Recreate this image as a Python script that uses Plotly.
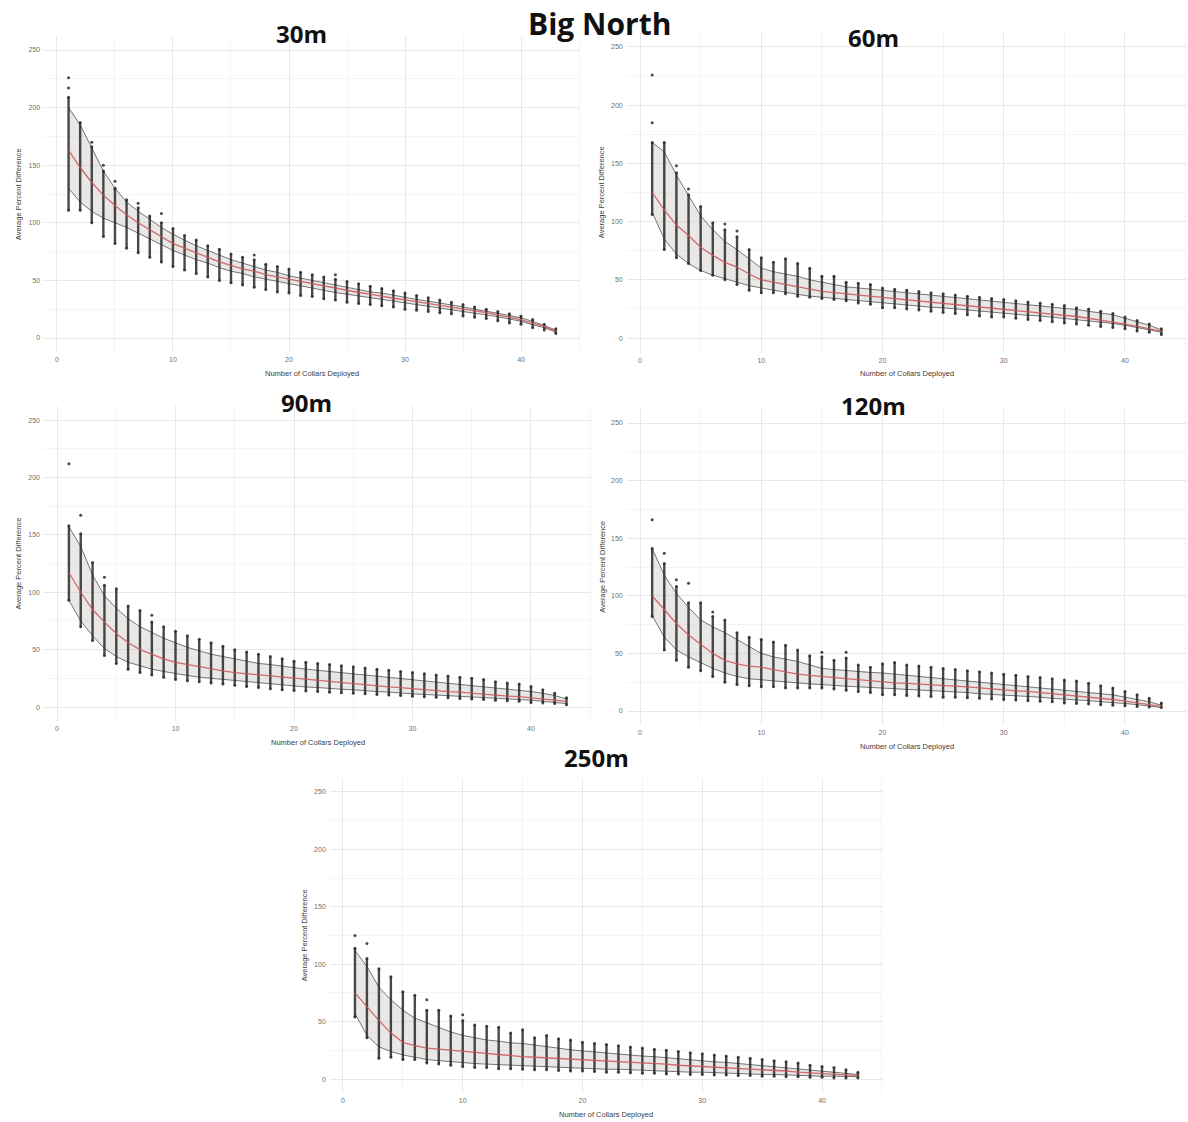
import plotly.graph_objects as go

# ---------------- data ----------------
collars = list(range(1, 44))
x_ticks = [0, 10, 20, 30, 40]
y_ticks = [0, 50, 100, 150, 200, 250]
panel_names = ["30m", "60m", "90m", "120m", "250m"]

mean_30 = [163,148,135,124,115,107,100,94,88,82,78,74,70,66,63,60,58,55,53,51,49,47,45,43,41,39.5,38,36,34.5,33,31.5,30,28.5,27,25,23.5,22,20,18,16,13,10,6]
hi_30 = [200,185,165,145,130,118,110,103,96,90,85,80,76,72,68,65,62,59,57,54,52,50,48,46,44,42,40,39,37,35,33.5,32,30.5,29,27,25,23.5,21.5,19.5,17.5,14.5,11,7]
lo_30 = [130,118,110,104,100,96,91,86,81,76,72,68,65,61,58,56,53,51,49,47,45,43,41,39.5,38,36.5,35,33.5,32,30.5,29,28,26.5,25,23.5,22,20.5,18.5,16.5,14.5,11.5,9,5]
pmax_30 = [209,187,166,145,130,120,113,106,100,95,89,85,80,77,73,70,68,64,62,60,57,55,53,51,49,47,45,43,41,39,37,35,33,31,29,27,25,23,21,19,16,12,8]
pmin_30 = [111,111,100,88,82,78,74,70,66,62,59,56,53,50,48,46,44,42,40,39,37,36,34,33,31,30,29,28,27,25,24,23,22,21,19,18,17,15,13,12,9,7,4]
out_x_30 = [1, 1, 3, 4, 5, 7, 9, 17, 24]
out_y_30 = [217, 226, 170, 150, 136, 117, 108, 72, 55]

mean_60 = [125,110,97,88,78,71,65,61,55,50,48,46,44,42,40,39,38,36.5,35.5,34.5,33.5,32.5,31.5,30.5,29.5,28.5,27.5,26.5,25.5,24.5,23.5,22.5,21.5,20.5,19.5,18.5,17,15.5,14,12,10,8,6]
hi_60 = [168,160,140,122,105,93,83,76,68,60,57,55,53,50,48,46,44,43,42,41,40,39,38,37,36,35,34,33,32,31,30,29,28,27,26,24.5,23,21.5,20,17,14,11,7]
lo_60 = [108,85,72,64,58,54,51,48,45,43,41,39,37.5,36,35,34,33,32,31,30,29,28,27,26.5,26,25,24,23,22.5,21.5,20.5,19.5,19,18,17,16,15,14,12.5,11,9,7,5]
pmax_60 = [168,168,142,123,113,99,93,87,76,69,65,68,64,60,53,53,48,47,46,43,42,41,40,39,38,37,36,35,34,33,32,31,30,29,28,26,25,23,21,18,15,12,8]
pmin_60 = [106,76,69,64,58,54,50,46,41,39,39,38,36,35,34,33,32,30,29,26,26,25,24,23,22,21,20,19,18,18,17,16,15,14,13,12,11,10,9,8,6,5,3]
out_x_60 = [1, 1, 3, 4, 7, 8]
out_y_60 = [185, 226, 148, 128, 98, 92]

mean_90 = [117,100,85,74,64,56,50,46,42,39,37,35,33,31.5,30,29,28,27,26,25,24,23,22,21,20,19,18.5,17.5,17,16,15,14.5,13.5,13,12,11,10.5,9.5,9,8,7,6,5]
hi_90 = [157,140,115,97,86,77,70,65,60,56,52,49,46,44,42,40,38,37,35.5,34.5,33,32,31,30,29,28,27,26,25,24,23,22,21,20,19,18,17,16,15,13.5,12,10,7]
lo_90 = [93,75,62,51,44,39,36,33,31,29,27.5,26,25,24,23,22,21,20,19,18,17.5,17,16,15.5,15,14,13.5,13,12,11.5,11,10.5,10,9.5,9,8.5,8,7,6.5,6,5,4,3]
pmax_90 = [158,151,126,106,103,88,84,74,70,66,62,59,56,53,50,48,46,44,42,40,39,38,37,36,35,34,33,32,31,30,29,28,27,26,25,24,22,21,20,18,15,12,8]
pmin_90 = [93,70,58,45,38,33,30,28,26,24,23,22,21,20,19,18,17,16,15,14.5,14,13.5,13,12.5,12,11.5,11,10.5,10,9.5,9,8.5,8,7.5,7,6.5,6,5.5,5,4,3.5,3,2]
out_x_90 = [1, 2, 4, 8]
out_y_90 = [212, 167, 113, 80]

mean_120 = [100,88,76,66,58,50,44,41,39,38,36,34,32,31,30,29,28,27,26,25,24.5,24,23.5,23,22,21.5,21,20,19,18,17.5,17,16,15,14.5,13.5,12.5,11.5,10,8.5,7,5.5,4]
hi_120 = [141,118,102,90,79,73,68,62,56,50,47,45,43,40,37,36,35,34,33.5,33,32,31,30,29,28,27,26,25,24,23,22,21,20,19,18,17,16,15,14,12,10,8,5]
lo_120 = [83,64,53,47,42,37,33,30,28,27,26,25,24,23.5,23,22,21.5,21,20.5,20,19,18.5,18,17.5,17,16.5,16,15,14.5,14,13,12.5,12,11,10.5,10,9,8,7.5,6.5,5.5,4.5,3]
pmax_120 = [141,128,108,94,94,82,79,68,64,62,60,57,53,48,47,44,46,40,38,41,42,40,39,38,37,36,35,34,33,32,31,30,29,28,27,26,24,22,20,17,14,11,7]
pmin_120 = [82,53,44,38,35,30,25,23,22,21,21,20,20,20,20,19,18,17,16,14,14,13.5,13,12.5,12,12,11.5,11,10.5,10,9.5,9,8.5,8,7,6.5,6,5.5,5,4.5,4,3.5,3]
out_x_120 = [1, 2, 3, 4, 6, 15, 17]
out_y_120 = [166, 137, 114, 111, 86, 51, 51]

mean_250 = [75,63,51,40,32,29,27,26,25,24,23,22,21,20,19.5,19,18.5,18,17.5,17,16.5,16,15.5,15,14,13.5,13,12,11.5,11,10.5,10,9.5,9,8,7.5,7,6,5.5,5,4.5,3.5,3]
hi_250 = [112,98,80,69,60,53,49,45,41,38,36,34,33,31.5,31,29.5,28,27,25.5,24.5,23.5,22.5,22,21,20,19.5,18.5,18,17,16,15,14.5,13.5,13,12,11,10,9,8,7,6,5,4]
lo_250 = [57,38,28,24,21,19,17,16,15,14,13.5,13,12.5,12,11.5,11,10.5,10,10,9.5,9,8.5,8.5,8,7.5,7,7,6.5,6,6,5.5,5,5,4.5,4,4,3.5,3,3,2.5,2.5,2,2]
pmax_250 = [114,105,96,89,76,73,60,60,55,51,47,46,45,40,43,36,38,35,34,32,31,30,29,28,27,26,25,24,23,22,21,20,19,18,17,16,15,14,12,11,10,8,6]
pmin_250 = [54,36,18,19,17,17,14,13,12,11,10,10,9,9,8.5,8,8,7.5,7,7,6.5,6,6,5.5,5,5,4.5,4.5,4,4,3.5,3.5,3,3,2.5,2.5,2,2,1.5,1.5,1,1,1]
out_x_250 = [1, 2, 7, 10]
out_y_250 = [125, 118, 69, 56]

series = {
    "30m": (mean_30, hi_30, lo_30, pmax_30, pmin_30, out_x_30, out_y_30),
    "60m": (mean_60, hi_60, lo_60, pmax_60, pmin_60, out_x_60, out_y_60),
    "90m": (mean_90, hi_90, lo_90, pmax_90, pmin_90, out_x_90, out_y_90),
    "120m": (mean_120, hi_120, lo_120, pmax_120, pmin_120, out_x_120, out_y_120),
    "250m": (mean_250, hi_250, lo_250, pmax_250, pmin_250, out_x_250, out_y_250),
}

# ---------------- layout (pixel boxes: left, right, top, bottom) ----------------
W, H = 1188, 1122
boxes = {
    "30m": (44.2, 580.2, 35.6, 352.4),
    "60m": (626.7, 1186.8, 32.4, 352.6),
    "90m": (44.0, 591.4, 405.7, 721.4),
    "120m": (626.7, 1186.8, 408.6, 725.4),
    "250m": (329.8, 883.1, 777.6, 1093.4),
}
title_pos = {
    "30m": (301, 33), "60m": (873, 38), "90m": (306, 402),
    "120m": (873, 406), "250m": (596, 757),
}

fig = go.Figure()
annotations = []
layout_axes = {}

ribbon_fill = "rgba(200,192,192,0.38)"
edge_col = "rgba(95,95,95,0.85)"
strip_col = "rgba(40,40,40,0.85)"
mean_col = "rgba(205,85,85,0.85)"
tick_font = dict(family="Liberation Sans, Arial", size=7, color="#707070")
title_font = dict(family="Liberation Sans, Arial", size=7.5, color="#404040")
head_font = "Open Sans, Lato, sans-serif"

for i, name in enumerate(panel_names, start=1):
    mean, hi, lo, pmax, pmin, ox, oy = series[name]
    xa = "x" if i == 1 else f"x{i}"
    ya = "y" if i == 1 else f"y{i}"
    # ribbon
    fig.add_trace(go.Scatter(x=collars, y=lo, xaxis=xa, yaxis=ya, mode="lines",
                             line=dict(color=edge_col, width=1), showlegend=False, hoverinfo="skip"))
    fig.add_trace(go.Scatter(x=collars, y=hi, xaxis=xa, yaxis=ya, mode="lines",
                             line=dict(color=edge_col, width=1), fill="tonexty",
                             fillcolor=ribbon_fill, showlegend=False, hoverinfo="skip"))
    # point strips
    fig.add_trace(go.Scatter(x=collars, y=pmin, xaxis=xa, yaxis=ya, mode="markers",
                             marker=dict(size=3, color=strip_col),
                             error_y=dict(type="data", symmetric=False,
                                          array=[a - b for a, b in zip(pmax, pmin)],
                                          arrayminus=[0] * len(pmin),
                                          width=0, thickness=2.4, color=strip_col),
                             showlegend=False, hoverinfo="skip"))
    fig.add_trace(go.Scatter(x=collars, y=pmax, xaxis=xa, yaxis=ya, mode="markers",
                             marker=dict(size=3, color=strip_col), showlegend=False, hoverinfo="skip"))
    fig.add_trace(go.Scatter(x=ox, y=oy, xaxis=xa, yaxis=ya, mode="markers",
                             marker=dict(size=3, color=strip_col), showlegend=False, hoverinfo="skip"))
    # mean line
    fig.add_trace(go.Scatter(x=collars, y=mean, xaxis=xa, yaxis=ya, mode="lines",
                             line=dict(color=mean_col, width=1.3), showlegend=False, hoverinfo="skip"))

    l, r, t, b = boxes[name]
    kx = "xaxis" if i == 1 else f"xaxis{i}"
    ky = "yaxis" if i == 1 else f"yaxis{i}"
    layout_axes[kx] = dict(domain=[l / W, r / W], anchor=ya, range=[-1.1, 45.1],
                           tickvals=x_ticks, ticktext=[str(v) for v in x_ticks],
                           showgrid=True, gridcolor="#e8e8e8", gridwidth=1,
                           minor=dict(dtick=5, tick0=0, showgrid=True, gridcolor="#f4f4f4", gridwidth=1),
                           zeroline=False, showline=False, ticks="", tickfont=tick_font, ticklabelstandoff=2)
    layout_axes[ky] = dict(domain=[1 - b / H, 1 - t / H], anchor=xa, range=[-12.5, 262.5],
                           tickvals=y_ticks, ticktext=[str(v) for v in y_ticks],
                           showgrid=True, gridcolor="#e8e8e8", gridwidth=1,
                           minor=dict(dtick=25, tick0=0, showgrid=True, gridcolor="#f4f4f4", gridwidth=1),
                           zeroline=False, showline=False, ticks="", tickfont=tick_font, ticklabelstandoff=3)
    # axis titles
    annotations.append(dict(x=(l + r) / 2 / W, y=1 - (b + 21) / H, xref="paper", yref="paper",
                            xanchor="center", yanchor="middle",
                            text="Number of Collars Deployed", showarrow=False, font=title_font))
    annotations.append(dict(x=(l - 25) / W, y=1 - ((t + b) / 2) / H, xref="paper", yref="paper",
                            xanchor="center", yanchor="middle",
                            text="Average Percent Difference", showarrow=False, textangle=-90,
                            font=title_font))
    tx, ty = title_pos[name]
    annotations.append(dict(x=tx / W, y=1 - ty / H, xref="paper", yref="paper",
                            xanchor="center", yanchor="middle",
                            text=f"<b>{name}</b>", showarrow=False,
                            font=dict(family=head_font, size=24, color="#111111")))

annotations.append(dict(x=599 / W, y=1 - 23 / H, xref="paper", yref="paper",
                        xanchor="center", yanchor="middle",
                        text="<b>Big North</b>", showarrow=False,
                        font=dict(family=head_font, size=30, color="#111111")))

fig.update_layout(width=W, height=H, margin=dict(l=0, r=0, t=0, b=0),
                  paper_bgcolor="white", plot_bgcolor="white",
                  showlegend=False, annotations=annotations, **layout_axes)

fig.write_html("out.html")
